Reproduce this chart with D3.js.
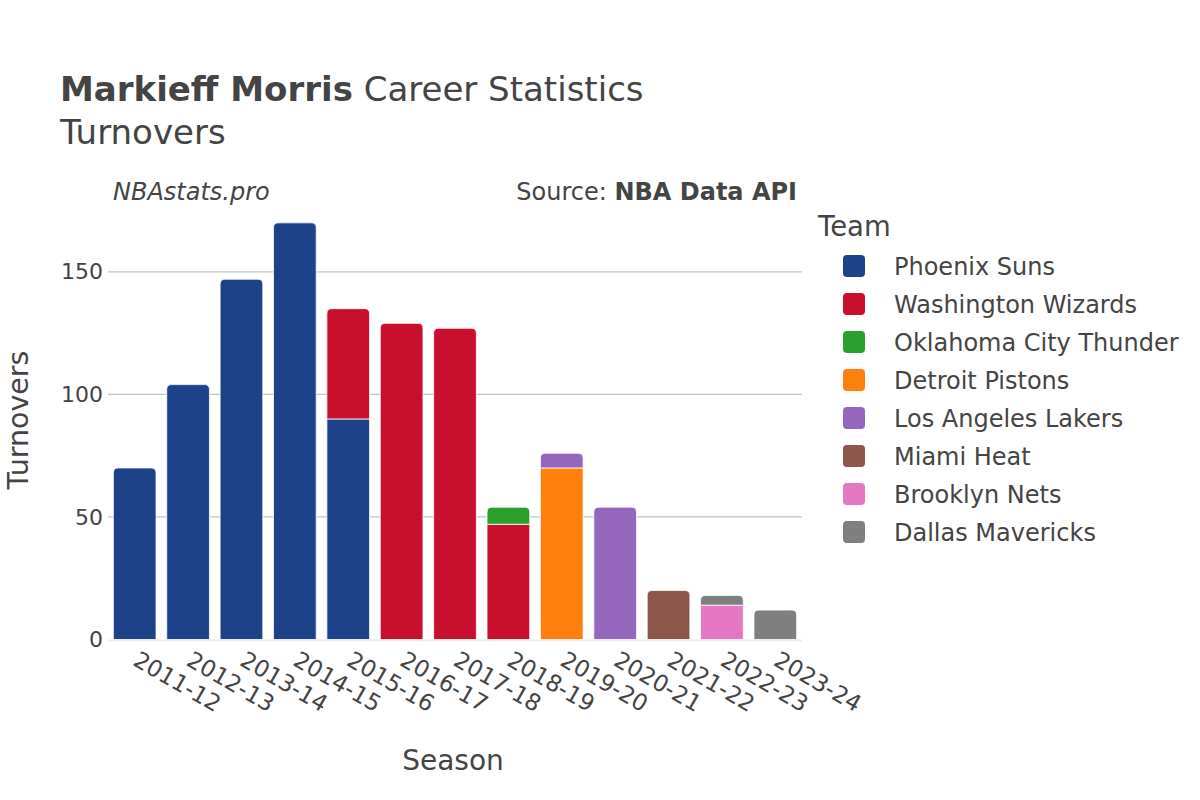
<!DOCTYPE html>
<html>
<head>
<meta charset="utf-8">
<script src="https://cdn.jsdelivr.net/npm/d3@7"></script>
<style>
  html, body { margin: 0; padding: 0; background: #fff; }
  svg { display: block; font-family: "DejaVu Sans", sans-serif; }
</style>
</head>
<body>
<svg id="chart" width="1200" height="800"></svg>
<script>
// ---- data ----
const seasons = ["2011-12","2012-13","2013-14","2014-15","2015-16","2016-17","2017-18","2018-19","2019-20","2020-21","2021-22","2022-23","2023-24"];
const teams = ["Phoenix Suns","Washington Wizards","Oklahoma City Thunder","Detroit Pistons","Los Angeles Lakers","Miami Heat","Brooklyn Nets","Dallas Mavericks"];
const teamColors = ["#1d428a","#c8102e","#2ca02c","#ff7f0e","#9467bd","#8c564b","#e377c2","#7f7f7f"];
const phoenixSuns        = [70,104,147,170,90,0,0,0,0,0,0,0,0];
const washingtonWizards  = [0,0,0,0,45,129,127,47,0,0,0,0,0];
const oklahomaCityThunder= [0,0,0,0,0,0,0,7,0,0,0,0,0];
const detroitPistons     = [0,0,0,0,0,0,0,0,70,0,0,0,0];
const losAngelesLakers   = [0,0,0,0,0,0,0,0,6,54,0,0,0];
const miamiHeat          = [0,0,0,0,0,0,0,0,0,0,20,0,0];
const brooklynNets       = [0,0,0,0,0,0,0,0,0,0,0,14,0];
const dallasMavericks    = [0,0,0,0,0,0,0,0,0,0,0,4,12];
const yTicks = [0,50,100,150];

const seriesValues = [phoenixSuns,washingtonWizards,oklahomaCityThunder,detroitPistons,losAngelesLakers,miamiHeat,brooklynNets,dallasMavericks];

// ---- layout ----
const svg = d3.select("#chart");
const plot = {left:108, right:802, top:201, bottom:639.5};
const textColor = "#444";

const x = d3.scaleBand().domain(seasons).range([plot.left, plot.right]).paddingInner(0.2).paddingOuter(0.1);
const totals = seasons.map((s,i)=>d3.sum(seriesValues, v=>v[i]));
const yMax = d3.max(totals) * 1.0525;
const y = d3.scaleLinear().domain([0, yMax]).range([plot.bottom, plot.top]);

// gridlines
svg.append("g").selectAll("line").data(yTicks.filter(t=>t>0)).join("line")
  .attr("x1", plot.left).attr("x2", plot.right)
  .attr("y1", d=>y(d)).attr("y2", d=>y(d))
  .attr("stroke", "#c4c4c4").attr("stroke-width", 1.2);

// y axis
const yAxis = d3.axisLeft(y).tickValues(yTicks).tickSize(0).tickPadding(5);
const gy = svg.append("g").attr("transform", `translate(${plot.left},0)`).call(yAxis);
gy.select(".domain").remove();
gy.selectAll("text").attr("font-size", 22).attr("fill", textColor).attr("font-family","DejaVu Sans");

// stacked data
const table = seasons.map((s,i)=>{ const o={season:s}; teams.forEach((t,k)=>o[t]=seriesValues[k][i]); return o; });
const stack = d3.stack().keys(teams);
const layers = stack(table);

// find top segment index per season
const topKey = seasons.map((s,i)=>{ let top=-1; teams.forEach((t,k)=>{ if(seriesValues[k][i]>0) top=k; }); return top; });

function barPath(x0, w, yTop, yBot, r) {
  r = Math.min(r, (yBot-yTop), w/2);
  if (r <= 0) return `M${x0},${yBot}V${yTop}H${x0+w}V${yBot}Z`;
  return `M${x0},${yBot}V${yTop+r}Q${x0},${yTop} ${x0+r},${yTop}H${x0+w-r}Q${x0+w},${yTop} ${x0+w},${yTop+r}V${yBot}Z`;
}

const gBars = svg.append("g");
layers.forEach((layer,k)=>{
  gBars.append("g").selectAll("path")
    .data(layer.map((d,i)=>({d, i})).filter(o=>o.d[1]-o.d[0]>0))
    .join("path")
    .attr("d", o=>{
      const x0 = x(seasons[o.i]), w = x.bandwidth();
      const isTop = topKey[o.i]===k;
      return barPath(x0, w, y(o.d[1]), y(o.d[0]), isTop ? 5 : 0);
    })
    .attr("fill", teamColors[k])
    .attr("stroke", "#fff").attr("stroke-width", 0.8);
});

// zero line
svg.append("line").attr("x1", plot.left).attr("x2", plot.right)
  .attr("y1", y(0)+1).attr("y2", y(0)+1).attr("stroke", "#ebebeb").attr("stroke-width", 2);

// x axis labels
const xAxis = d3.axisBottom(x).tickSize(0).tickPadding(0);
const gx = svg.append("g").attr("transform", `translate(0,${plot.bottom})`).call(xAxis);
gx.select(".domain").remove();
gx.selectAll("text")
  .attr("font-size", 23).attr("fill", textColor).attr("font-family","DejaVu Sans")
  .attr("text-anchor","start").attr("dy", null).attr("y", 0)
  .attr("transform", "translate(-3,25) rotate(30)");

// axis titles
svg.append("text").attr("x", 453).attr("y", 770).attr("text-anchor","middle")
  .attr("font-size", 28).attr("fill", textColor).text("Season");
svg.append("text").attr("transform","translate(28,420) rotate(-90)").attr("text-anchor","middle")
  .attr("font-size", 28.5).attr("fill", textColor).text("Turnovers");

// title
const title = svg.append("text").attr("x", 60).attr("y", 101).attr("font-size", 34).attr("fill", textColor);
title.append("tspan").attr("font-weight","bold").text("Markieff Morris");
title.append("tspan").text(" Career Statistics");
svg.append("text").attr("x", 60).attr("y", 144).attr("font-size", 34).attr("fill", textColor).text("Turnovers");

// annotations
svg.append("text").attr("x", 113).attr("y", 200).attr("font-size", 24).attr("font-style","italic")
  .attr("fill", textColor).text("NBAstats.pro");
const src = svg.append("text").attr("x", 797).attr("y", 200).attr("text-anchor","end").attr("font-size", 24).attr("fill", textColor);
src.append("tspan").text("Source: ");
src.append("tspan").attr("font-weight","bold").text("NBA Data API");

// legend
const lg = svg.append("g");
lg.append("text").attr("x", 818).attr("y", 236).attr("font-size", 27.5).attr("fill", textColor).text("Team");
const items = lg.selectAll("g.item").data(teams).join("g").attr("class","item")
  .attr("transform", (d,i)=>`translate(0,${266 + i*38})`);
items.append("rect").attr("x", 843).attr("y", -11).attr("width", 22).attr("height", 22).attr("rx", 4)
  .attr("fill", (d,i)=>teamColors[i]);
items.append("text").attr("x", 894).attr("y", 8.5).attr("font-size", 24).attr("fill", textColor).text(d=>d);
</script>
</body>
</html>
